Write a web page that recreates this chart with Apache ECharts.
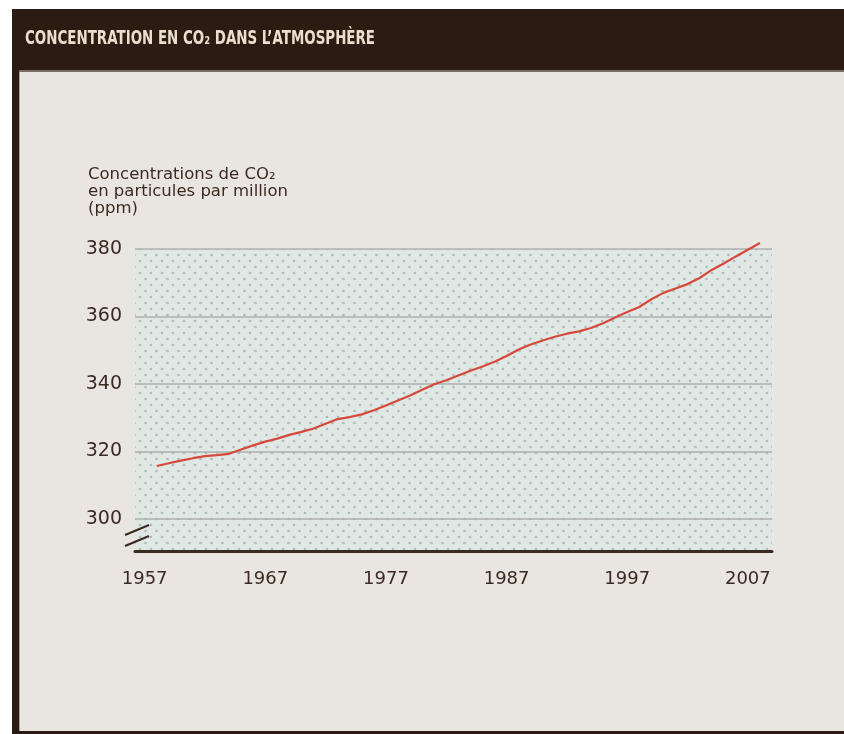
<!DOCTYPE html>
<html>
<head>
<meta charset="utf-8">
<title>Concentration en CO₂ dans l'atmosphère</title>
<script src="https://cdn.jsdelivr.net/npm/echarts@6/dist/echarts.min.js"></script>
<style>
  html, body { margin: 0; padding: 0; background: #ffffff; }
  #chart { width: 844px; height: 734px; }
</style>
</head>
<body>
<div id="chart"></div>
<script>
// Annual mean CO2 concentration (ppm)
const years = [
  1958, 1959, 1960, 1961, 1962, 1963, 1964, 1965, 1966, 1967,
  1968, 1969, 1970, 1971, 1972, 1973, 1974, 1975, 1976, 1977,
  1978, 1979, 1980, 1981, 1982, 1983, 1984, 1985, 1986, 1987,
  1988, 1989, 1990, 1991, 1992, 1993, 1994, 1995, 1996, 1997,
  1998, 1999, 2000, 2001, 2002, 2003, 2004, 2005, 2006, 2007,
  2008
];
const co2ppm = [
  315.7, 316.5, 317.3, 318.0, 318.6, 318.9, 319.3, 320.6, 321.8, 322.9,
  323.8, 324.9, 325.8, 326.8, 328.2, 329.6, 330.2, 331.0, 332.2, 333.6,
  335.1, 336.6, 338.3, 339.9, 341.1, 342.5, 343.9, 345.2, 346.6, 348.3,
  350.2, 351.7, 352.9, 354.0, 354.9, 355.6, 356.6, 358.0, 359.7, 361.3,
  362.8, 365.1, 367.0, 368.3, 369.6, 371.4, 373.8, 375.7, 377.8, 379.8,
  381.8
];
const yearTicks = [1957, 1967, 1977, 1987, 1997, 2007];
const ppmTicks = [300, 320, 340, 360, 380];

const titleText = 'CONCENTRATION EN CO\u2082 DANS L\u2019ATMOSPH\u00C8RE';
const subtitleText = 'Concentrations de CO\u2082\nen particules par million\n(ppm)';

const INK = '#3b2a21';
const FRAME = '#2c1b12';
const PANEL = '#e9e6e1';
const FONT = '"DejaVu Sans", "Noto Sans", sans-serif';

// Stippled fill for the plot area
function dotPattern() {
  const c = document.createElement('canvas');
  c.width = 11; c.height = 12;
  const g = c.getContext('2d');
  g.fillStyle = '#e0e8e5';
  g.fillRect(0, 0, 11, 12);
  g.fillStyle = '#aebcb8';
  g.beginPath(); g.arc(2.5, 3, 1.35, 0, Math.PI * 2); g.fill();
  g.beginPath(); g.arc(8, 9, 1.35, 0, Math.PI * 2); g.fill();
  return { image: c, repeat: 'repeat' };
}

// Condense the banner title to its band width
const titleFont = 'bold 19px ' + FONT;
const measure = document.createElement('canvas').getContext('2d');
measure.font = titleFont;
const titleScale = 350 / measure.measureText(titleText).width;

const chart = echarts.init(document.getElementById('chart'), null, { renderer: 'canvas' });

chart.setOption({
  backgroundColor: '#ffffff',
  animation: false,
  grid: {
    left: 135, right: 72, top: 249, bottom: 183,
    show: true,
    borderWidth: 0,
    backgroundColor: dotPattern()
  },
  xAxis: {
    type: 'value',
    min: 1956.2,
    max: 2009,
    axisLine: { show: true, onZero: false, lineStyle: { color: INK, width: 3 } },
    axisTick: { show: false, customValues: yearTicks },
    splitLine: { show: false },
    axisLabel: {
      customValues: yearTicks,
      formatter: v => String(v),
      color: INK,
      fontFamily: FONT,
      fontSize: 18,
      margin: 19
    }
  },
  yAxis: {
    type: 'value',
    min: 290.5,
    max: 380,
    axisLine: { show: false },
    axisTick: { show: false, customValues: ppmTicks },
    axisLabel: {
      customValues: ppmTicks,
      formatter: v => String(v),
      color: INK,
      fontFamily: FONT,
      fontSize: 19,
      margin: 13
    },
    splitLine: { show: true, lineStyle: { color: '#abb1ae', width: 1.5 } }
  },
  series: [{
    type: 'line',
    data: years.map((y, i) => [y, co2ppm[i]]),
    showSymbol: false,
    smooth: false,
    clip: false,
    lineStyle: { color: '#d6483a', width: 2.2 },
    z: 5
  }],
  graphic: [
    // Frame and banner
    { type: 'rect', z: -100, shape: { x: 12, y: 9, width: 832, height: 725 }, style: { fill: FRAME } },
    { type: 'rect', z: -99, shape: { x: 19, y: 70, width: 825, height: 2 }, style: { fill: '#7a6d64' } },
    { type: 'rect', z: -98, shape: { x: 19, y: 72, width: 825, height: 659 }, style: { fill: PANEL } },
    { type: 'rect', z: -97, shape: { x: 19, y: 72, width: 1, height: 659 }, style: { fill: '#a9a29b' } },
    {
      type: 'text', z: 100, x: 25, y: 39, scaleX: titleScale,
      style: { text: titleText, font: titleFont, fill: '#eadfce', textVerticalAlign: 'middle' }
    },
    // Axis caption
    {
      type: 'text', z: 100, x: 88, y: 166,
      style: { text: subtitleText, font: '16.5px ' + FONT, fill: INK, lineHeight: 17 }
    },
    // Axis break marks
    { type: 'line', z: 100, shape: { x1: 125, y1: 535, x2: 149, y2: 525 }, style: { stroke: INK, lineWidth: 2 } },
    { type: 'line', z: 100, shape: { x1: 125, y1: 546, x2: 149, y2: 536 }, style: { stroke: INK, lineWidth: 2 } }
  ]
});
</script>
</body>
</html>
